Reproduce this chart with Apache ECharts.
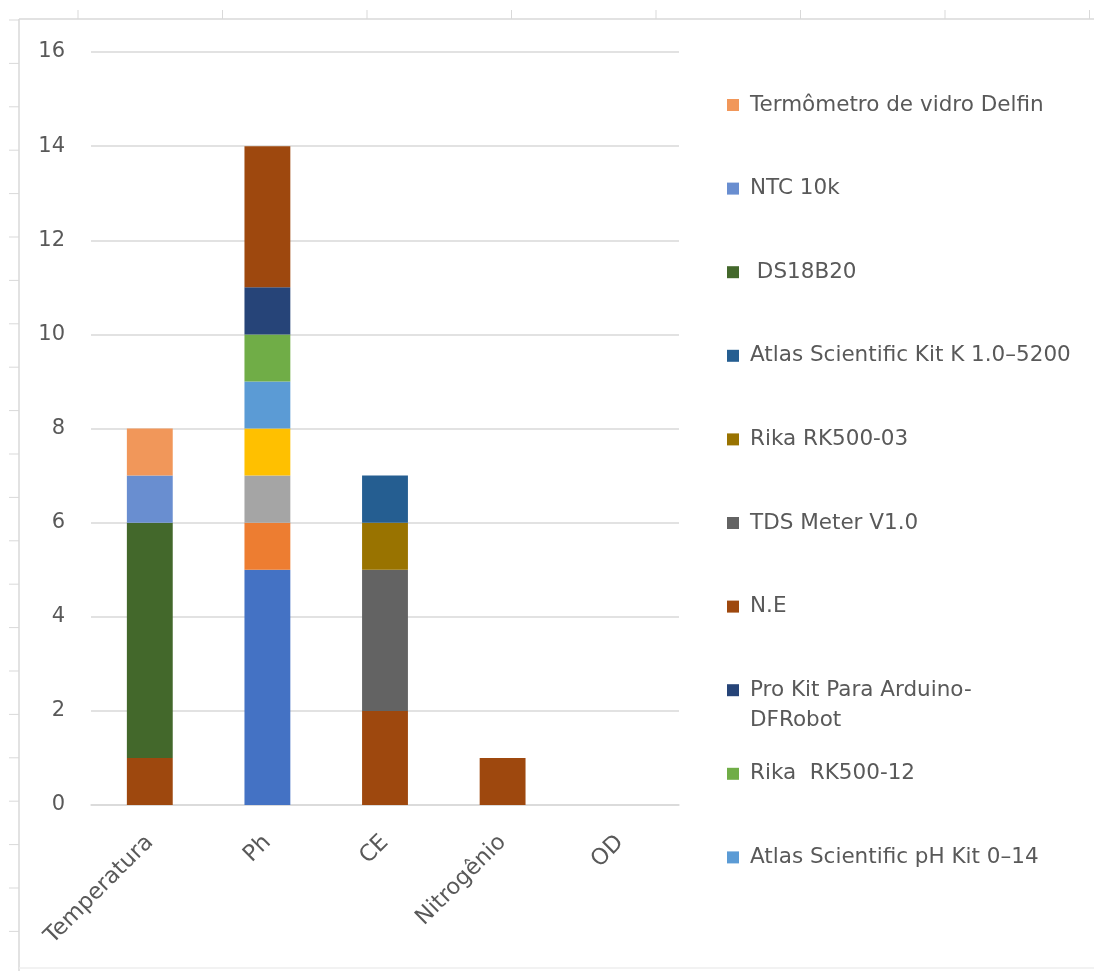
<!DOCTYPE html>
<html>
<head>
<meta charset="utf-8">
<script src="https://cdn.jsdelivr.net/npm/echarts@6/dist/echarts.min.js"></script>
<style>
	html, body { margin: 0; padding: 0; background: #fff; }
	#chart { width: 1094px; height: 971px; }
</style>
</head>
<body>
<div id="chart"></div>
<script>
var categories = ["Temperatura", "Ph", "CE", "Nitrogênio", "OD"];

// series in Excel order (bottom of the stack first)
var seriesNames = [
	"Série 1",
	"Série 2",
	"Série 3",
	"Série 4",
	"Atlas Scientific pH Kit 0–14",
	"Rika  RK500-12",
	"Pro Kit Para Arduino-DFRobot",
	"N.E",
	"TDS Meter V1.0",
	"Rika RK500-03",
	"Atlas Scientific Kit K 1.0–5200",
	" DS18B20",
	"NTC 10k",
	"Termômetro de vidro Delfin",
];
var seriesColors = [
	"#4472C4", "#ED7D31", "#A5A5A5", "#FFC000", "#5B9BD5", "#70AD47", "#264478",
	"#9E480E", "#636363", "#997300", "#255E91", "#43682B", "#698ED0", "#F1975A",
];
var s1 = [0, 5, 0, 0, 0];
var s2 = [0, 1, 0, 0, 0];
var s3 = [0, 1, 0, 0, 0];
var s4 = [0, 1, 0, 0, 0];
var atlasPh = [0, 1, 0, 0, 0];
var rika12 = [0, 1, 0, 0, 0];
var proKit = [0, 1, 0, 0, 0];
var ne = [1, 3, 2, 1, 0];
var tds = [0, 0, 3, 0, 0];
var rika03 = [0, 0, 1, 0, 0];
var atlasK = [0, 0, 1, 0, 0];
var ds18b20 = [5, 0, 0, 0, 0];
var ntc = [1, 0, 0, 0, 0];
var termometro = [1, 0, 0, 0, 0];
var seriesValues = [s1, s2, s3, s4, atlasPh, rika12, proKit, ne, tds, rika03, atlasK, ds18b20, ntc, termometro];

// legend shows the last ten series, top to bottom
var legendNames = seriesNames.slice(4).reverse();

var textColor = "#595959";
var fontFamily = "'DejaVu Sans', sans-serif";

var chart = echarts.init(document.getElementById("chart"));

var series = [];
for (var i = 0; i < seriesNames.length; i++) {
	series.push({
		name: seriesNames[i],
		type: 'bar',
		stack: 'total',
		barWidth: '39%',
		color: seriesColors[i],
		data: seriesValues[i].map(function(v) { return v == 0 ? null : v; }),
	});
}

var legends = legendNames.map(function(name, i) {
	return {
		data: [name],
		orient: 'vertical',
		left: 727,
		top: 93 + i * 83.6,
		padding: 0,
		itemWidth: 12,
		itemHeight: 12,
		selectedMode: false,
		icon: 'rect',
		formatter: function(n) {
			return n == "Pro Kit Para Arduino-DFRobot" ? "Pro Kit Para Arduino-" : n;
		},
		textStyle: {
			color: textColor,
			fontSize: 21.5,
			fontFamily: fontFamily,
			lineHeight: 24,
			padding: [0, 0, 0, 6],
		},
	};
});

// ruler-like frame round the picture
var frame = [
	{ type: 'line', shape: { x1: 19, y1: 19, x2: 1094, y2: 19 }, style: { stroke: '#d9d9d9', lineWidth: 1.5 } },
	{ type: 'line', shape: { x1: 19, y1: 19, x2: 19, y2: 971 }, style: { stroke: '#d9d9d9', lineWidth: 1.5 } },
	{ type: 'line', shape: { x1: 19, y1: 968, x2: 1094, y2: 968 }, style: { stroke: '#eeeeee', lineWidth: 1.5 } },
	{ type: 'text', left: 750, top: 709, style: { text: 'DFRobot', fill: textColor, font: "21.5px " + fontFamily } },
];
for (var x = 78; x < 1094; x += 144.5) {
	frame.push({ type: 'line', shape: { x1: x, y1: 10, x2: x, y2: 19 }, style: { stroke: '#d9d9d9', lineWidth: 1 } });
}
for (var y = 20; y < 971; y += 43.4) {
	frame.push({ type: 'line', shape: { x1: 9, y1: y, x2: 19, y2: y }, style: { stroke: '#d9d9d9', lineWidth: 1 } });
}

var option = {
	animation: false,
	backgroundColor: '#ffffff',
	textStyle: { fontFamily: fontFamily },
	grid: { left: 91, right: 415, top: 52, bottom: 166, containLabel: false },
	legend: legends,
	graphic: frame,
	xAxis: {
		type: 'category',
		data: categories,
		axisTick: { show: false },
		axisLine: { lineStyle: { color: '#d9d9d9', width: 1.5 } },
		axisLabel: { rotate: 45, color: textColor, fontSize: 22.5, margin: 34, interval: 0 },
	},
	yAxis: {
		type: 'value',
		min: 0,
		max: 16,
		interval: 2,
		axisLine: { show: false },
		axisTick: { show: false },
		axisLabel: { color: textColor, fontSize: 21, margin: 26 },
		splitLine: { lineStyle: { color: '#d9d9d9', width: 1.5 } },
	},
	series: series,
};
chart.setOption(option);
</script>
</body>
</html>
